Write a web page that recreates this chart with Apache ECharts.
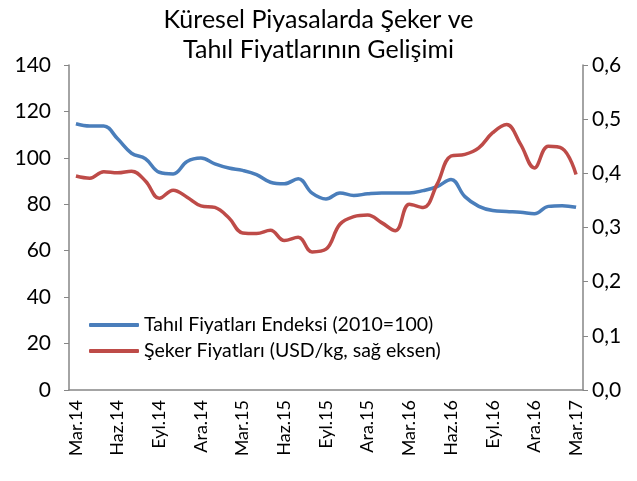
<!DOCTYPE html>
<html>
<head>
<meta charset="utf-8">
<script src="https://cdn.jsdelivr.net/npm/echarts@6/dist/echarts.min.js"></script>
<style>
  html, body { margin: 0; padding: 0; background: #fff; }
  #chart { width: 637px; height: 481px; }
</style>
</head>
<body>
<div id="chart"></div>
<script>
// aylar: Mar.14 - Mar.17
var months = ['Mar.14','Nis.14','May.14','Haz.14','Tem.14','Ağu.14','Eyl.14','Eki.14','Kas.14','Ara.14',
  'Oca.15','Şub.15','Mar.15','Nis.15','May.15','Haz.15','Tem.15','Ağu.15','Eyl.15','Eki.15','Kas.15','Ara.15',
  'Oca.16','Şub.16','Mar.16','Nis.16','May.16','Haz.16','Tem.16','Ağu.16','Eyl.16','Eki.16','Kas.16','Ara.16',
  'Oca.17','Şub.17','Mar.17'];

// tahıl fiyatları endeksi (2010=100), sol eksen
var tahil = [114.7, 113.7, 113.7, 108.2, 102.0, 99.6, 93.8, 93.1, 98.4, 99.9,
  97.4, 95.6, 94.6, 92.8, 89.5, 88.8, 91.0, 84.8, 82.3, 84.9, 83.8, 84.5,
  84.9, 84.9, 84.9, 85.9, 87.6, 90.7, 83.3, 79.1, 77.3, 76.9, 76.6, 75.9,
  79.1, 79.4, 78.7];

// şeker fiyatları (USD/kg), sağ eksen
var seker = [0.395, 0.391, 0.403, 0.401, 0.404, 0.386, 0.354, 0.369, 0.356, 0.340,
  0.337, 0.318, 0.290, 0.289, 0.295, 0.276, 0.282, 0.255, 0.260, 0.306, 0.320, 0.323,
  0.309, 0.294, 0.343, 0.337, 0.380, 0.432, 0.435, 0.447, 0.475, 0.490, 0.454, 0.410,
  0.450, 0.446, 0.398];

var seriesNames = ['Tahıl Fiyatları Endeksi (2010=100)', 'Şeker Fiyatları (USD/kg, sağ eksen)'];

var font = 'Lato, "Open Sans", sans-serif';
var axisGray = '#868686';

var chart = echarts.init(document.getElementById('chart'));

chart.setOption({
  animation: false,
  title: {
    text: 'Küresel Piyasalarda Şeker ve\nTahıl Fiyatlarının Gelişimi',
    left: 'center',
    top: 0,
    textStyle: { fontFamily: font, fontSize: 25, fontWeight: 'normal', color: '#000', lineHeight: 30 }
  },
  legend: {
    orient: 'vertical',
    left: 84,
    top: 310,
    itemWidth: 50,
    itemHeight: 4,
    itemGap: 6,
    icon: 'roundRect',
    textStyle: { fontFamily: font, fontSize: 19.5, color: '#000' },
    data: seriesNames
  },
  grid: { left: 69, right: 54, top: 65, bottom: 91 },
  xAxis: {
    type: 'category',
    data: months,
    boundaryGap: true,
    axisLine: { lineStyle: { color: axisGray, width: 1.5 } },
    axisTick: { interval: 2, length: 6, lineStyle: { color: axisGray } },
    axisLabel: { interval: 2, rotate: 90, fontFamily: font, fontSize: 18, color: '#000', margin: 10 }
  },
  yAxis: [{
    type: 'value',
    min: 0, max: 140, interval: 20,
    axisLine: { show: true, lineStyle: { color: axisGray, width: 1.5 } },
    axisTick: { show: true, length: 5, lineStyle: { color: axisGray } },
    splitLine: { show: false },
    axisLabel: { fontFamily: font, fontSize: 21, color: '#000', margin: 18 }
  }, {
    type: 'value',
    min: 0, max: 0.6, interval: 0.1,
    position: 'right',
    axisLine: { show: true, lineStyle: { color: axisGray, width: 1.5 } },
    axisTick: { show: true, length: 5, lineStyle: { color: axisGray } },
    splitLine: { show: false },
    axisLabel: {
      fontFamily: font, fontSize: 21, color: '#000', margin: 9,
      formatter: function (v) { return v.toFixed(1).replace('.', ','); }
    }
  }],
  series: [{
    name: seriesNames[0],
    type: 'line',
    yAxisIndex: 0,
    data: tahil,
    smooth: 0.4,
    symbol: 'none',
    lineStyle: { color: '#4A7EBB', width: 3.5 },
    itemStyle: { color: '#4A7EBB' }
  }, {
    name: seriesNames[1],
    type: 'line',
    yAxisIndex: 1,
    data: seker,
    smooth: 0.4,
    symbol: 'none',
    lineStyle: { color: '#BE4B48', width: 3.5 },
    itemStyle: { color: '#BE4B48' }
  }]
});
</script>
</body>
</html>
